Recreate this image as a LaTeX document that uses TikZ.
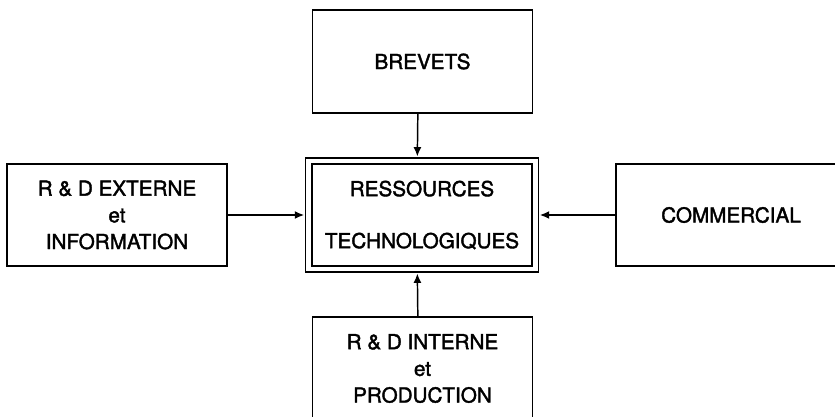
\documentclass[tikz,border=0pt]{standalone}
\usepackage{fontspec}
\setmainfont{TeX Gyre Heros}
\newfontfamily\epais{TeX Gyre Heros}[FakeBold=1.8]
\usepackage{tikz}
\usetikzlibrary{arrows.meta, positioning}

\begin{document}
\begin{tikzpicture}[x=0.75pt,y=-0.75pt,
  boite/.style={draw, line width=1.3pt, minimum width=165pt, minimum height=76.5pt,
    align=center, inner sep=0pt, font=\epais\fontsize{15.5}{20}\selectfont},
  centrale/.style={boite, double, line width=1.2pt, double distance=3.6pt, minimum width=170pt,
    minimum height=81pt, outer sep=3.4pt},
  fleche/.style={draw, line width=1.1pt, -{Latex[length=7pt,width=6pt]}}]
\clip (0,0) rectangle (835,417);
\node [boite, minimum height=77.25pt] (brevets) at (422.5,61.5) {BREVETS};
\node [centrale] (ressources) at (422,215) {RESSOURCES\\[19pt]TECHNOLOGIQUES};
\node [boite] (externe) at (117,215) {R \& D EXTERNE\\et\\INFORMATION};
\node [boite, minimum width=172pt] (commercial) at (731,215) {COMMERCIAL};
\node [boite, minimum height=77.25pt] (interne) at (422.5,368.5) {R \& D INTERNE\\et\\PRODUCTION};
\draw [fleche] ([xshift=-3.5pt]brevets.south) -- ([xshift=-3.5pt]ressources.north);
\draw [fleche] (externe) -- (ressources);
\draw [fleche] (commercial) -- (ressources);
\draw [fleche] ([xshift=-3.5pt]interne.north) -- ([xshift=-3.5pt]ressources.south);
\end{tikzpicture}
\end{document}
